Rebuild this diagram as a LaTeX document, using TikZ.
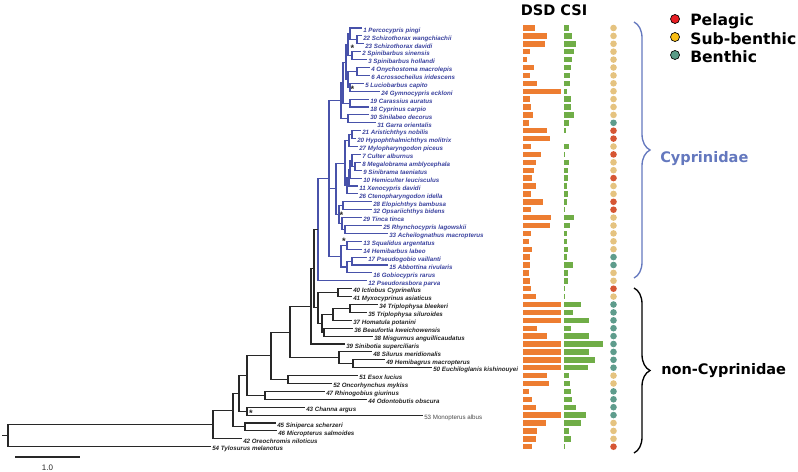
\documentclass[tikz,border=0pt]{standalone}
\usepackage{fontspec}
\setmainfont{Liberation Sans}
\newfontfamily\legendfont{DejaVu Sans}
\usepackage{tikz}
\usetikzlibrary{decorations.pathreplacing}
\definecolor{cypblue}{RGB}{72,82,170}
\definecolor{cyptext}{RGB}{58,66,158}
\definecolor{braceblue}{RGB}{100,120,190}
\definecolor{treegray}{RGB}{40,40,40}
\definecolor{leafgray}{RGB}{35,35,35}
\definecolor{dsdorange}{RGB}{237,125,49}
\definecolor{csigreen}{RGB}{112,173,71}
\definecolor{pelred}{RGB}{214,86,52}
\definecolor{subtan}{RGB}{229,195,128}
\definecolor{bentteal}{RGB}{94,156,140}
\definecolor{legred}{RGB}{232,30,36}
\definecolor{legyellow}{RGB}{250,190,20}
\definecolor{legteal}{RGB}{90,155,135}

\begin{document}
\begin{tikzpicture}[x=0.75pt,y=0.75pt,yscale=-1,xscale=1,
  branchc/.style={draw=cypblue, line width=0.8pt},
  branchn/.style={draw=treegray, line width=0.8pt},
  leafc/.style={anchor=west, inner sep=0.75pt, text=cyptext, font=\fontsize{4.65}{5}\selectfont\bfseries\itshape, text height=1.6ex, text depth=0.4ex},
  leafn/.style={leafc, text=leafgray},
  leafm/.style={leafn, font=\fontsize{4.65}{5}\selectfont, text=treegray!85},
  bootmark/.style={inner sep=0pt, font=\fontsize{7}{7}\selectfont\bfseries, text=treegray},
  dsd/.style={fill=dsdorange},
  csi/.style={fill=csigreen},
  legdot/.style={draw=black, line width=0.5pt}]
\path[use as bounding box] (0,0) rectangle (798,471);

% Text Node
\node[leafc] (s1) at (362,28) {1 Percocypris pingi};
\node[leafc] (s22) at (362,35.9) {22 Schizothorax wangchiachii};
\node[leafc] (s23) at (364,43.8) {23 Schizothorax davidi};
\node[leafc] (s2) at (361,51.7) {2 Spinibarbus sinensis};
\node[leafc] (s3) at (367,59.6) {3 Spinibarbus hollandi};
\node[leafc] (s4) at (370,67.5) {4 Onychostoma macrolepis};
\node[leafc] (s6) at (370,75.4) {6 Acrossocheilus iridescens};
\node[leafc] (s5) at (364,83.3) {5 Luciobarbus capito};
\node[leafc] (s24) at (380,91.2) {24 Gymnocypris eckloni};
\node[leafc] (s19) at (369,99.1) {19 Carassius auratus};
\node[leafc] (s18) at (369,107) {18 Cyprinus carpio};
\node[leafc] (s30) at (369,114.9) {30 Sinilabeo decorus};
\node[leafc] (s31) at (376,122.8) {31 Garra orientalis};
\node[leafc] (s21) at (361,130.7) {21 Aristichthys nobilis};
\node[leafc] (s20) at (356,138.6) {20 Hypophthalmichthys molitrix};
\node[leafc] (s27) at (358,146.5) {27 Mylopharyngodon piceus};
\node[leafc] (s7) at (361,154.4) {7 Culter alburnus};
\node[leafc] (s8) at (361,162.3) {8 Megalobrama amblycephala};
\node[leafc] (s9) at (362,170.2) {9 Sinibrama taeniatus};
\node[leafc] (s10) at (362,178.1) {10 Hemiculter leucisculus};
\node[leafc] (s11) at (358,186) {11 Xenocypris davidi};
\node[leafc] (s26) at (358,193.9) {26 Ctenopharyngodon idella};
\node[leafc] (s28) at (372,201.8) {28 Elopichthys bambusa};
\node[leafc] (s32) at (372,209.7) {32 Opsariichthys bidens};
\node[leafc] (s29) at (362,217.6) {29 Tinca tinca};
\node[leafc] (s25) at (382,225.5) {25 Rhynchocypris lagowskii};
\node[leafc] (s33) at (388,233.4) {33 Acheilognathus macropterus};
\node[leafc] (s13) at (362,241.3) {13 Squalidus argentatus};
\node[leafc] (s14) at (362,249.2) {14 Hemibarbus labeo};
\node[leafc] (s17) at (367,257.1) {17 Pseudogobio vaillanti};
\node[leafc] (s15) at (388,265) {15 Abbottina rivularis};
\node[leafc] (s16) at (372,272.9) {16 Gobiocypris rarus};
\node[leafc] (s12) at (367,280.8) {12 Pseudorasbora parva};
% Text Node
\node[leafn] (s40) at (352,288.7) {40 Ictiobus Cyprinellus};
\node[leafn] (s41) at (352,296.6) {41 Myxocyprinus asiaticus};
\node[leafn] (s34) at (378,304.5) {34 Triplophysa bleekeri};
\node[leafn] (s35) at (367,312.4) {35 Triplophysa siluroides};
\node[leafn] (s37) at (352,320.3) {37 Homatula potanini};
\node[leafn] (s36) at (353,328.2) {36 Beaufortia kweichowensis};
\node[leafn] (s38) at (373,336.1) {38 Misgurnus anguillicaudatus};
\node[leafn] (s39) at (345,344) {39 Sinibotia superciliaris};
\node[leafn] (s48) at (372,351.9) {48 Silurus meridionalis};
\node[leafn] (s49) at (385,359.8) {49 Hemibagrus macropterus};
\node[leafn] (s50) at (432,367.7) {50 Euchiloglanis kishinouyei};
\node[leafn] (s51) at (358,375.6) {51 Esox lucius};
\node[leafn] (s52) at (332,383.5) {52 Oncorhynchus mykiss};
\node[leafn] (s47) at (325,391.4) {47 Rhinogobius giurinus};
\node[leafn] (s44) at (367,399.3) {44 Odontobutis obscura};
\node[leafn] (s43) at (305,407.2) {43 Channa argus};
\node[leafm] (s53) at (423,415.1) {53 Monopterus albus};
\node[leafn] (s45) at (276,423) {45 Siniperca scherzeri};
\node[leafn] (s46) at (277,430.9) {46 Micropterus salmoides};
\node[leafn] (s42) at (242,438.8) {42 Oreochromis niloticus};
\node[leafn] (s54) at (211,446.7) {54 Tylosurus melanotus};

%Tree nodes
\coordinate (n2223) at (357,39.85);
\coordinate (n1) at (350,33.93);
\coordinate (n23) at (352,55.65);
\coordinate (nBa) at (348,44.79);
\coordinate (n46) at (357,71.45);
\coordinate (n524) at (350,87.25);
\coordinate (nBb) at (348,79.35);
\coordinate (nBarb) at (346,62.07);
\coordinate (n1918) at (350,103.05);
\coordinate (nK1a) at (343,82.56);
\coordinate (n3031) at (348,118.85);
\coordinate (nK1) at (341,100.7);
\coordinate (n2120) at (352,134.65);
\coordinate (n27) at (349,140.58);
\coordinate (n89) at (355,166.25);
\coordinate (n7) at (352,160.33);
\coordinate (n10) at (350,169.21);
\coordinate (n11) at (349,177.6);
\coordinate (n26) at (347,185.75);
\coordinate (nXen) at (345,163.16);
\coordinate (n2832) at (343,205.75);
\coordinate (n2533) at (345,229.45);
\coordinate (nTinca) at (342,223.53);
\coordinate (nM2) at (339,214.64);
\coordinate (nM) at (336,188.9);
\coordinate (n1314) at (347,245.25);
\coordinate (n1715) at (352,261.05);
\coordinate (n16) at (347,266.98);
\coordinate (nK2) at (341,256.11);
\coordinate (nK) at (329,178.4);
\coordinate (nCR) at (318,229.6);
\coordinate (n4041) at (338,292.65);
\coordinate (n3435) at (350,308.45);
\coordinate (n37) at (333,314.38);
\coordinate (n3638) at (324,332.15);
\coordinate (nLoach) at (322,323.26);
\coordinate (nCat) at (318,307.96);
\coordinate (nH) at (314,268.78);
\coordinate (nG) at (311,306.39);
\coordinate (n4950) at (353,363.75);
\coordinate (n48) at (339,357.83);
\coordinate (nF) at (290,332.11);
\coordinate (n5152) at (288,379.55);
\coordinate (nE) at (271,355.83);
\coordinate (n4744) at (265,395.35);
\coordinate (nD) at (247,375.59);
\coordinate (n4353) at (247,411.15);
\coordinate (nC) at (239,393.37);
\coordinate (n4546) at (245,426.95);
\coordinate (nB) at (233,410.16);
\coordinate (nA) at (213,424.48);
\coordinate (nRoot) at (8,435.59);
\coordinate (rootstub) at (2,435.59);

%Straight Lines: Cyprinidae
\draw[branchc] (n2223) |- (s22.west); \draw[branchc] (n2223) |- (s23.west);
\draw[branchc] (n1) |- (s1.west); \draw[branchc] (n1) |- (n2223);
\draw[branchc] (n23) |- (s2.west); \draw[branchc] (n23) |- (s3.west);
\draw[branchc] (nBa) |- (n1); \draw[branchc] (nBa) |- (n23);
\draw[branchc] (n46) |- (s4.west); \draw[branchc] (n46) |- (s6.west);
\draw[branchc] (n524) |- (s5.west); \draw[branchc] (n524) |- (s24.west);
\draw[branchc] (nBb) |- (n46); \draw[branchc] (nBb) |- (n524);
\draw[branchc] (nBarb) |- (nBa); \draw[branchc] (nBarb) |- (nBb);
\draw[branchc] (n1918) |- (s19.west); \draw[branchc] (n1918) |- (s18.west);
\draw[branchc] (nK1a) |- (nBarb); \draw[branchc] (nK1a) |- (n1918);
\draw[branchc] (n3031) |- (s30.west); \draw[branchc] (n3031) |- (s31.west);
\draw[branchc] (nK1) |- (nK1a); \draw[branchc] (nK1) |- (n3031);
\draw[branchc] (n2120) |- (s21.west); \draw[branchc] (n2120) |- (s20.west);
\draw[branchc] (n27) |- (n2120); \draw[branchc] (n27) |- (s27.west);
\draw[branchc] (n89) |- (s8.west); \draw[branchc] (n89) |- (s9.west);
\draw[branchc] (n7) |- (s7.west); \draw[branchc] (n7) |- (n89);
\draw[branchc] (n10) |- (n7); \draw[branchc] (n10) |- (s10.west);
\draw[branchc] (n11) |- (n10); \draw[branchc] (n11) |- (s11.west);
\draw[branchc] (n26) |- (n11); \draw[branchc] (n26) |- (s26.west);
\draw[branchc] (nXen) |- (n27); \draw[branchc] (nXen) |- (n26);
\draw[branchc] (n2832) |- (s28.west); \draw[branchc] (n2832) |- (s32.west);
\draw[branchc] (n2533) |- (s25.west); \draw[branchc] (n2533) |- (s33.west);
\draw[branchc] (nTinca) |- (s29.west); \draw[branchc] (nTinca) |- (n2533);
\draw[branchc] (nM2) |- (n2832); \draw[branchc] (nM2) |- (nTinca);
\draw[branchc] (nM) |- (nXen); \draw[branchc] (nM) |- (nM2);
\draw[branchc] (n1314) |- (s13.west); \draw[branchc] (n1314) |- (s14.west);
\draw[branchc] (n1715) |- (s17.west); \draw[branchc] (n1715) |- (s15.west);
\draw[branchc] (n16) |- (n1715); \draw[branchc] (n16) |- (s16.west);
\draw[branchc] (nK2) |- (n1314); \draw[branchc] (nK2) |- (n16);
\draw[branchc] (nK) |- (nK1); \draw[branchc] (nK) |- (nM); \draw[branchc] (nK) |- (nK2);
\draw[branchc] (nCR) |- (nK); \draw[branchc] (nCR) |- (s12.west);

%Straight Lines: other orders
\draw[branchn] (n4041) |- (s40.west); \draw[branchn] (n4041) |- (s41.west);
\draw[branchn] (n3435) |- (s34.west); \draw[branchn] (n3435) |- (s35.west);
\draw[branchn] (n37) |- (n3435); \draw[branchn] (n37) |- (s37.west);
\draw[branchn] (n3638) |- (s36.west); \draw[branchn] (n3638) |- (s38.west);
\draw[branchn] (nLoach) |- (n37); \draw[branchn] (nLoach) |- (n3638);
\draw[branchn] (nCat) |- (n4041); \draw[branchn] (nCat) |- (nLoach);
\draw[branchn] (nH) |- (nCR); \draw[branchn] (nH) |- (nCat);
\draw[branchn] (nG) |- (nH); \draw[branchn] (nG) |- (s39.west);
\draw[branchn] (n4950) |- (s49.west); \draw[branchn] (n4950) |- (s50.west);
\draw[branchn] (n48) |- (s48.west); \draw[branchn] (n48) |- (n4950);
\draw[branchn] (nF) |- (nG); \draw[branchn] (nF) |- (n48);
\draw[branchn] (n5152) |- (s51.west); \draw[branchn] (n5152) |- (s52.west);
\draw[branchn] (nE) |- (nF); \draw[branchn] (nE) |- (n5152);
\draw[branchn] (n4744) |- (s47.west); \draw[branchn] (n4744) |- (s44.west);
\draw[branchn] (nD) |- (nE); \draw[branchn] (nD) |- (n4744);
\draw[branchn] (n4353) |- (s43.west); \draw[branchn] (n4353) |- (s53.west);
\draw[branchn] (nC) |- (nD); \draw[branchn] (nC) |- (n4353);
\draw[branchn] (n4546) |- (s45.west); \draw[branchn] (n4546) |- (s46.west);
\draw[branchn] (nB) |- (nC); \draw[branchn] (nB) |- (n4546);
\draw[branchn] (nA) |- (nB); \draw[branchn] (nA) |- (s42.west);
\draw[branchn] (nRoot) |- (nA); \draw[branchn] (nRoot) |- (s54.west);
\draw[branchn] (rootstub) -- (nRoot);

% Text Node
\node[bootmark] (bs1) at (352.5,48.5) {*};
\node[bootmark] (bs2) at (352.5,89) {*};
\node[bootmark] (bs3) at (341.5,215.5) {*};
\node[bootmark] (bs4) at (344,241) {*};
\node[bootmark] (bs5) at (251,413) {*};

%Scale bar
\coordinate (sbl) at (15,457);
\coordinate (sbr) at (80,457);
\draw[treegray, line width=1pt] (sbl) -- (sbr);
\node[inner sep=0.75pt, font=\fontsize{6}{7}\selectfont, text=treegray] (sbtext) at (47.5,467.5) {1.0};

% Text Node
\node[anchor=base west, inner sep=0pt, font={\legendfont\bfseries\fontsize{10.9}{12}\selectfont}] (head) at (520.5,15) {DSD CSI};

%Shape: Bars and habitat dots
\fill[dsd] (523,25.3) rectangle ++(12,5.4); \fill[csi] (564,25.3) rectangle ++(5,5.4); \fill[subtan] (613.5,28) circle (3.3);
\fill[dsd] (523,33.2) rectangle ++(24,5.4); \fill[csi] (564,33.2) rectangle ++(8,5.4); \fill[subtan] (613.5,35.9) circle (3.3);
\fill[dsd] (523,41.1) rectangle ++(22,5.4); \fill[csi] (564,41.1) rectangle ++(12,5.4); \fill[subtan] (613.5,43.8) circle (3.3);
\fill[dsd] (523,49) rectangle ++(7,5.4); \fill[csi] (564,49) rectangle ++(10,5.4); \fill[subtan] (613.5,51.7) circle (3.3);
\fill[dsd] (523,56.9) rectangle ++(3.5,5.4); \fill[csi] (564,56.9) rectangle ++(8,5.4); \fill[subtan] (613.5,59.6) circle (3.3);
\fill[dsd] (523,64.8) rectangle ++(11,5.4); \fill[csi] (564,64.8) rectangle ++(7,5.4); \fill[subtan] (613.5,67.5) circle (3.3);
\fill[dsd] (523,72.7) rectangle ++(7,5.4); \fill[csi] (564,72.7) rectangle ++(6,5.4); \fill[subtan] (613.5,75.4) circle (3.3);
\fill[dsd] (523,80.6) rectangle ++(14,5.4); \fill[csi] (564,80.6) rectangle ++(6,5.4); \fill[subtan] (613.5,83.3) circle (3.3);
\fill[dsd] (523,88.5) rectangle ++(38,5.4); \fill[csi] (564,88.5) rectangle ++(3,5.4); \fill[subtan] (613.5,91.2) circle (3.3);
\fill[dsd] (523,96.4) rectangle ++(7,5.4); \fill[csi] (564,96.4) rectangle ++(7,5.4); \fill[subtan] (613.5,99.1) circle (3.3);
\fill[dsd] (523,104.3) rectangle ++(8,5.4); \fill[csi] (564,104.3) rectangle ++(7,5.4); \fill[subtan] (613.5,107) circle (3.3);
\fill[dsd] (523,112.2) rectangle ++(10,5.4); \fill[csi] (564,112.2) rectangle ++(10,5.4); \fill[subtan] (613.5,114.9) circle (3.3);
\fill[dsd] (523,120.1) rectangle ++(6,5.4); \fill[csi] (564,120.1) rectangle ++(5,5.4); \fill[bentteal] (613.5,122.8) circle (3.3);
\fill[dsd] (523,128) rectangle ++(24,5.4); \fill[csi] (564,128) rectangle ++(1.5,5.4); \fill[pelred] (613.5,130.7) circle (3.3);
\fill[dsd] (523,135.9) rectangle ++(27,5.4); \fill[pelred] (613.5,138.6) circle (3.3);
\fill[dsd] (523,143.8) rectangle ++(8,5.4); \fill[csi] (564,143.8) rectangle ++(5,5.4); \fill[subtan] (613.5,146.5) circle (3.3);
\fill[dsd] (523,151.7) rectangle ++(18,5.4); \fill[csi] (564,151.7) rectangle ++(1,5.4); \fill[pelred] (613.5,154.4) circle (3.3);
\fill[dsd] (523,159.6) rectangle ++(13,5.4); \fill[csi] (564,159.6) rectangle ++(5,5.4); \fill[subtan] (613.5,162.3) circle (3.3);
\fill[dsd] (523,167.5) rectangle ++(11,5.4); \fill[csi] (564,167.5) rectangle ++(4,5.4); \fill[subtan] (613.5,170.2) circle (3.3);
\fill[dsd] (523,175.4) rectangle ++(9,5.4); \fill[csi] (564,175.4) rectangle ++(4,5.4); \fill[pelred] (613.5,178.1) circle (3.3);
\fill[dsd] (523,183.3) rectangle ++(13,5.4); \fill[csi] (564,183.3) rectangle ++(3,5.4); \fill[subtan] (613.5,186) circle (3.3);
\fill[dsd] (523,191.2) rectangle ++(8,5.4); \fill[csi] (564,191.2) rectangle ++(4,5.4); \fill[subtan] (613.5,193.9) circle (3.3);
\fill[dsd] (523,199.1) rectangle ++(20,5.4); \fill[csi] (564,199.1) rectangle ++(3,5.4); \fill[pelred] (613.5,201.8) circle (3.3);
\fill[dsd] (523,207) rectangle ++(8,5.4); \fill[csi] (564,207) rectangle ++(1,5.4); \fill[pelred] (613.5,209.7) circle (3.3);
\fill[dsd] (523,214.9) rectangle ++(28,5.4); \fill[csi] (564,214.9) rectangle ++(10,5.4); \fill[subtan] (613.5,217.6) circle (3.3);
\fill[dsd] (523,222.8) rectangle ++(27,5.4); \fill[csi] (564,222.8) rectangle ++(6,5.4); \fill[subtan] (613.5,225.5) circle (3.3);
\fill[dsd] (523,230.7) rectangle ++(8,5.4); \fill[csi] (564,230.7) rectangle ++(3,5.4); \fill[subtan] (613.5,233.4) circle (3.3);
\fill[dsd] (523,238.6) rectangle ++(6,5.4); \fill[csi] (564,238.6) rectangle ++(3,5.4); \fill[subtan] (613.5,241.3) circle (3.3);
\fill[dsd] (523,246.5) rectangle ++(9,5.4); \fill[csi] (564,246.5) rectangle ++(4,5.4); \fill[subtan] (613.5,249.2) circle (3.3);
\fill[dsd] (523,254.4) rectangle ++(7,5.4); \fill[csi] (564,254.4) rectangle ++(3,5.4); \fill[bentteal] (613.5,257.1) circle (3.3);
\fill[dsd] (523,262.3) rectangle ++(7,5.4); \fill[csi] (564,262.3) rectangle ++(9,5.4); \fill[bentteal] (613.5,265) circle (3.3);
\fill[dsd] (523,270.2) rectangle ++(6,5.4); \fill[csi] (564,270.2) rectangle ++(4,5.4); \fill[subtan] (613.5,272.9) circle (3.3);
\fill[dsd] (523,278.1) rectangle ++(7,5.4); \fill[csi] (564,278.1) rectangle ++(4,5.4); \fill[subtan] (613.5,280.8) circle (3.3);
\fill[dsd] (523,286) rectangle ++(8,5.4); \fill[csi] (564,286) rectangle ++(1,5.4); \fill[pelred] (613.5,288.7) circle (3.3);
\fill[dsd] (523,293.9) rectangle ++(13,5.4); \fill[csi] (564,293.9) rectangle ++(1,5.4); \fill[subtan] (613.5,296.6) circle (3.3);
\fill[dsd] (523,301.8) rectangle ++(38,5.4); \fill[csi] (564,301.8) rectangle ++(17,5.4); \fill[bentteal] (613.5,304.5) circle (3.3);
\fill[dsd] (523,309.7) rectangle ++(38,5.4); \fill[csi] (564,309.7) rectangle ++(9,5.4); \fill[bentteal] (613.5,312.4) circle (3.3);
\fill[dsd] (523,317.6) rectangle ++(38,5.4); \fill[csi] (564,317.6) rectangle ++(25,5.4); \fill[bentteal] (613.5,320.3) circle (3.3);
\fill[dsd] (523,325.5) rectangle ++(14,5.4); \fill[csi] (564,325.5) rectangle ++(7,5.4); \fill[bentteal] (613.5,328.2) circle (3.3);
\fill[dsd] (523,333.4) rectangle ++(24,5.4); \fill[csi] (564,333.4) rectangle ++(25,5.4); \fill[bentteal] (613.5,336.1) circle (3.3);
\fill[dsd] (523,341.3) rectangle ++(38,5.4); \fill[csi] (564,341.3) rectangle ++(39,5.4); \fill[bentteal] (613.5,344) circle (3.3);
\fill[dsd] (523,349.2) rectangle ++(38,5.4); \fill[csi] (564,349.2) rectangle ++(25,5.4); \fill[bentteal] (613.5,351.9) circle (3.3);
\fill[dsd] (523,357.1) rectangle ++(38,5.4); \fill[csi] (564,357.1) rectangle ++(31,5.4); \fill[bentteal] (613.5,359.8) circle (3.3);
\fill[dsd] (523,365) rectangle ++(38,5.4); \fill[csi] (564,365) rectangle ++(24,5.4); \fill[bentteal] (613.5,367.7) circle (3.3);
\fill[dsd] (523,372.9) rectangle ++(24,5.4); \fill[csi] (564,372.9) rectangle ++(5,5.4); \fill[subtan] (613.5,375.6) circle (3.3);
\fill[dsd] (523,380.8) rectangle ++(26,5.4); \fill[csi] (564,380.8) rectangle ++(6,5.4); \fill[subtan] (613.5,383.5) circle (3.3);
\fill[dsd] (523,388.7) rectangle ++(6,5.4); \fill[csi] (564,388.7) rectangle ++(7,5.4); \fill[bentteal] (613.5,391.4) circle (3.3);
\fill[dsd] (523,396.6) rectangle ++(9,5.4); \fill[csi] (564,396.6) rectangle ++(8,5.4); \fill[bentteal] (613.5,399.3) circle (3.3);
\fill[dsd] (523,404.5) rectangle ++(13,5.4); \fill[csi] (564,404.5) rectangle ++(12,5.4); \fill[bentteal] (613.5,407.2) circle (3.3);
\fill[dsd] (523,412.4) rectangle ++(38,5.4); \fill[csi] (564,412.4) rectangle ++(22,5.4); \fill[bentteal] (613.5,415.1) circle (3.3);
\fill[dsd] (523,420.3) rectangle ++(23,5.4); \fill[csi] (564,420.3) rectangle ++(17,5.4); \fill[subtan] (613.5,423) circle (3.3);
\fill[dsd] (523,428.2) rectangle ++(14,5.4); \fill[csi] (564,428.2) rectangle ++(5,5.4); \fill[subtan] (613.5,430.9) circle (3.3);
\fill[dsd] (523,436.1) rectangle ++(13,5.4); \fill[csi] (564,436.1) rectangle ++(7,5.4); \fill[subtan] (613.5,438.8) circle (3.3);
\fill[dsd] (523,444) rectangle ++(9,5.4); \fill[csi] (564,444) rectangle ++(1,5.4); \fill[pelred] (613.5,446.7) circle (3.3);

%Shape: Braces
\draw[braceblue, line width=1pt, decorate, decoration={brace, amplitude=12pt}] (634,22) -- (634,278);
\draw[black, line width=1pt, decorate, decoration={brace, amplitude=12pt}] (634,288) -- (634,453);

% Text Node
\node[anchor=base west, inner sep=0pt, text=braceblue, font={\legendfont\bfseries\fontsize{10.9}{12}\selectfont}] (cyp) at (660,162) {Cyprinidae};
\node[anchor=base west, inner sep=0pt, font={\legendfont\bfseries\fontsize{10.9}{12}\selectfont}] (noncyp) at (661,374) {non-Cyprinidae};

%Legend
\draw[legdot, fill=legred] (675,19) circle (4.5);
\draw[legdot, fill=legyellow] (675,37) circle (4.5);
\draw[legdot, fill=legteal] (675,55) circle (4.5);
\node[anchor=base west, inner sep=0pt, font={\legendfont\bfseries\fontsize{11.7}{14}\selectfont}] (pelagic) at (690,26) {Pelagic};
\node[anchor=base west, inner sep=0pt, font={\legendfont\bfseries\fontsize{11.7}{14}\selectfont}] (subben) at (690,44) {Sub-benthic};
\node[anchor=base west, inner sep=0pt, font={\legendfont\bfseries\fontsize{11.7}{14}\selectfont}] (benthic) at (690,62) {Benthic};
\end{tikzpicture}
\end{document}
